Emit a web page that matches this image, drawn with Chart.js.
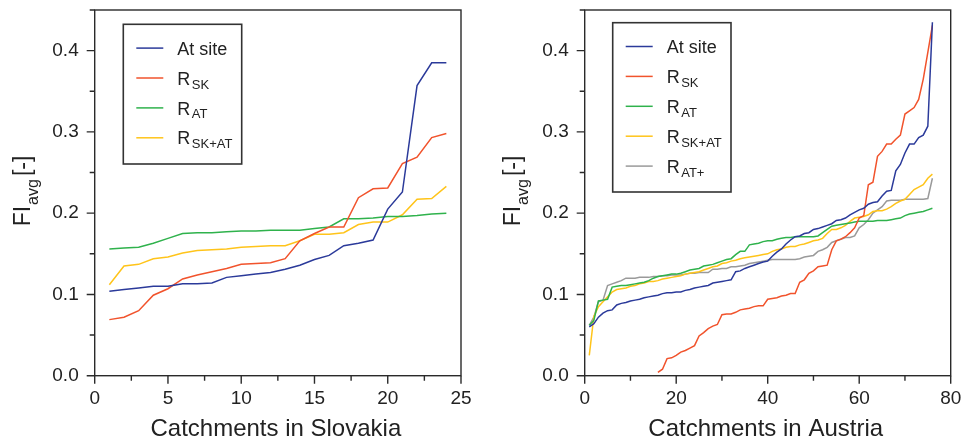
<!DOCTYPE html>
<html><head><meta charset="utf-8">
<script src="https://cdn.jsdelivr.net/npm/chart.js@4.4.1/dist/chart.umd.min.js"></script>
<style>
html,body{margin:0;padding:0;background:#fff;width:963px;height:443px;overflow:hidden;}
canvas{position:absolute;top:0;}
#c1{left:0;}
#c2{left:490px;}
</style></head><body>
<canvas id="c1" width="480" height="443"></canvas>
<canvas id="c2" width="473" height="443"></canvas>
<script>
// ---------- Data: Slovakia (24 catchments) ----------
const catchSK = [1,2,3,4,5,6,7,8,9,10,11,12,13,14,15,16,17,18,19,20,21,22,23,24];
const atSiteSK = [0.104,0.106,0.108,0.110,0.110,0.113,0.113,0.114,0.121,0.123,0.125,0.127,0.131,0.136,0.143,0.148,0.160,0.163,0.167,0.205,0.226,0.357,0.385,0.385];
const rSK_SK   = [0.069,0.072,0.080,0.099,0.107,0.119,0.124,0.128,0.132,0.137,0.138,0.139,0.144,0.166,0.175,0.183,0.183,0.219,0.230,0.231,0.261,0.269,0.293,0.298];
const rAT_SK   = [0.156,0.157,0.158,0.163,0.169,0.175,0.176,0.176,0.177,0.178,0.178,0.179,0.179,0.179,0.181,0.183,0.193,0.193,0.194,0.196,0.196,0.197,0.199,0.200];
const rSKAT_SK = [0.112,0.135,0.137,0.144,0.146,0.151,0.154,0.155,0.156,0.158,0.159,0.160,0.160,0.166,0.174,0.174,0.176,0.186,0.189,0.189,0.198,0.217,0.218,0.233];

// ---------- Data: Austria (76 catchments) ----------
const catchAT = Array.from({length: 76}, (_, i) => i + 1);
const atSiteAT = [0.060,0.064,0.072,0.077,0.080,0.081,0.087,0.089,0.090,0.092,
  0.093,0.094,0.096,0.097,0.098,0.099,0.101,0.102,0.102,0.103,
  0.103,0.105,0.106,0.108,0.109,0.110,0.111,0.114,0.115,0.116,
  0.117,0.118,0.128,0.129,0.132,0.134,0.136,0.138,0.140,0.141,
  0.147,0.152,0.156,0.162,0.167,0.171,0.172,0.175,0.176,0.180,
  0.181,0.183,0.185,0.187,0.191,0.192,0.194,0.198,0.201,0.204,
  0.206,0.211,0.213,0.214,0.221,0.227,0.228,0.252,0.260,0.274,
  0.285,0.285,0.293,0.296,0.307,0.435];
const rSK_AT = [null,null,null,null,null,null,null,null,null,null,
  null,null,null,null,null,0.004,0.008,0.021,0.022,0.025,
  0.029,0.031,0.034,0.037,0.049,0.053,0.058,0.061,0.063,0.075,
  0.076,0.076,0.078,0.081,0.082,0.083,0.085,0.086,0.086,0.094,
  0.095,0.096,0.098,0.099,0.101,0.101,0.115,0.118,0.126,0.129,
  0.134,0.135,0.136,0.155,0.166,0.168,0.171,0.176,0.182,0.194,
  0.197,0.235,0.238,0.270,0.276,0.285,0.285,0.291,0.296,0.322,
  0.326,0.330,0.340,0.365,0.398,0.431];
const rAT_AT = [0.062,0.068,0.092,0.093,0.094,0.109,0.110,0.111,0.111,0.112,
  0.113,0.114,0.115,0.117,0.120,0.122,0.123,0.124,0.125,0.125,
  0.126,0.128,0.130,0.131,0.132,0.135,0.136,0.137,0.139,0.141,
  0.143,0.144,0.149,0.153,0.153,0.161,0.162,0.163,0.165,0.166,
  0.166,0.168,0.169,0.170,0.170,0.171,0.171,0.171,0.171,0.171,
  0.172,0.176,0.180,0.184,0.185,0.186,0.187,0.188,0.189,0.190,
  0.190,0.190,0.190,0.191,0.191,0.191,0.192,0.193,0.194,0.197,
  0.199,0.200,0.201,0.202,0.204,0.206];
const rSKAT_AT = [0.025,0.073,0.085,0.091,0.097,0.103,0.106,0.107,0.108,0.110,
  0.111,0.113,0.114,0.116,0.116,0.117,0.119,0.120,0.121,0.122,
  0.123,0.125,0.126,0.127,0.128,0.130,0.132,0.134,0.135,0.138,
  0.139,0.141,0.142,0.144,0.145,0.146,0.147,0.148,0.149,0.150,
  0.153,0.155,0.156,0.158,0.159,0.159,0.161,0.162,0.164,0.166,
  0.167,0.169,0.175,0.180,0.180,0.182,0.185,0.190,0.194,0.195,
  0.196,0.198,0.202,0.203,0.203,0.205,0.208,0.212,0.215,0.217,
  0.223,0.229,0.232,0.235,0.243,0.248];
const rATplus_AT = [0.062,0.072,0.091,0.093,0.111,0.113,0.115,0.117,0.120,0.120,
  0.120,0.121,0.121,0.121,0.122,0.122,0.123,0.123,0.124,0.124,
  0.124,0.125,0.126,0.126,0.127,0.127,0.127,0.131,0.131,0.132,
  0.132,0.134,0.134,0.135,0.136,0.138,0.139,0.140,0.141,0.142,
  0.143,0.143,0.143,0.143,0.143,0.143,0.144,0.146,0.147,0.148,
  0.153,0.155,0.158,0.164,0.166,0.168,0.170,0.170,0.172,0.182,
  0.186,0.192,0.200,0.204,0.208,0.215,0.216,0.216,0.216,0.217,
  0.217,0.217,0.217,0.217,0.218,0.243];

// ---------- Axis ticks / labels ----------
const yTickValues = [0.0, 0.1, 0.2, 0.3, 0.4];
const xTickSK = [0, 5, 10, 15, 20, 25];
const xTickAT = [0, 20, 40, 60, 80];

// ---------- Legend labels ----------
const legendSK = [['At site',''],['R','SK'],['R','AT'],['R','SK+AT']];
const legendAT = [['At site',''],['R','SK'],['R','AT'],['R','SK+AT'],['R','AT+']];

const C_BLUE = '#2b3a9a', C_RED = '#f1532c', C_GREEN = '#2fb24c', C_YELLOW = '#ffc41a', C_GRAY = '#9a9a9a';
const FONT = '"Liberation Sans", Arial, Helvetica, sans-serif';
const AXIS = '#2a2a2a';

function pts(xs, ys) { return ys.map((v, i) => ({x: xs[i], y: v})); }

const decor = {
  id: 'decor',
  afterDraw(chart, args, o) {
    const ctx = chart.ctx, a = chart.chartArea;
    const xs = chart.scales.x, ys = chart.scales.y;
    ctx.save();
    // frame
    ctx.strokeStyle = AXIS; ctx.lineWidth = 1.4;
    ctx.strokeRect(a.left, a.top, a.right - a.left, a.bottom - a.top);
    // ticks
    ctx.beginPath();
    const nX = Math.round((xs.max - xs.min) / o.xMinor);
    for (let i = 0; i <= nX; i++) {
      const v = xs.min + i * o.xMinor;
      const px = xs.getPixelForValue(v);
      const major = Math.abs(v / o.xMajor - Math.round(v / o.xMajor)) < 1e-6;
      ctx.moveTo(px, a.bottom); ctx.lineTo(px, a.bottom + (major ? 8 : 5));
    }
    const nY = Math.round((ys.max - ys.min) / 0.05);
    for (let i = 0; i <= nY; i++) {
      const v = ys.min + i * 0.05;
      const py = ys.getPixelForValue(v);
      const major = (i % 2) === 0;
      ctx.moveTo(a.left, py); ctx.lineTo(a.left - (major ? 8 : 5), py);
    }
    ctx.stroke();

    ctx.fillStyle = '#222';
    // x title
    ctx.font = '24px ' + FONT;
    ctx.textAlign = 'center'; ctx.textBaseline = 'alphabetic';
    ctx.fillText(o.xTitle, (a.left + a.right) / 2 - 2, 436);

    // y title FI_avg [-]
    ctx.save();
    ctx.translate(30, 191);
    ctx.rotate(-Math.PI / 2);
    ctx.textAlign = 'left';
    ctx.font = '23px ' + FONT; const w1 = ctx.measureText('FI').width;
    ctx.font = '16px ' + FONT; const w2 = ctx.measureText('avg').width;
    ctx.font = '23px ' + FONT; const w3 = ctx.measureText('[-]').width;
    const tot = w1 + 1 + w2 + 3 + w3;
    let x = -tot / 2;
    ctx.font = '23px ' + FONT; ctx.fillText('FI', x, 0); x += w1 + 1;
    ctx.font = '16px ' + FONT; ctx.fillText('avg', x, 8); x += w2 + 3;
    ctx.font = '23px ' + FONT; ctx.fillText('[-]', x, 0);
    ctx.restore();

    // legend
    const L = o.legend;
    const bx = a.left + L.dx, by = L.y, bw = L.w, bh = L.h;
    ctx.fillStyle = '#fff';
    ctx.fillRect(bx, by, bw, bh);
    ctx.strokeStyle = '#333'; ctx.lineWidth = 1.6;
    ctx.strokeRect(bx, by, bw, bh);
    const dsets = chart.data.datasets;
    L.items.forEach((it, i) => {
      const ly = by + 23.8 + i * 29.9;
      ctx.strokeStyle = dsets[i].borderColor; ctx.lineWidth = 1.5;
      ctx.beginPath(); ctx.moveTo(bx + 13, ly); ctx.lineTo(bx + 40, ly); ctx.stroke();
      ctx.fillStyle = '#222'; ctx.textAlign = 'left'; ctx.textBaseline = 'alphabetic';
      ctx.font = '18px ' + FONT;
      ctx.fillText(it[0], bx + 54, ly + 6.6);
      if (it[1]) {
        const mw = ctx.measureText(it[0]).width;
        ctx.font = '13px ' + FONT;
        ctx.fillText(it[1], bx + 54 + mw + 1.5, ly + 10.5);
      }
    });
    ctx.restore();
  }
};

function makeChart(id, xs, series, colors, xMax, xTicks, xMinor, xMajor, xTitle, padRight, legend) {
  const datasets = series.map((s, i) => ({
    data: pts(xs, s), borderColor: colors[i], backgroundColor: colors[i],
    borderWidth: 1.5, pointRadius: 0, tension: 0, spanGaps: false, fill: false
  }));
  return new Chart(document.getElementById(id), {
    type: 'line',
    data: { datasets },
    options: {
      responsive: false, animation: false, devicePixelRatio: 1,
      layout: { padding: { left: 0, top: 10, right: padRight, bottom: 0 } },
      plugins: { legend: { display: false }, tooltip: { enabled: false },
        decor: { xMinor, xMajor, xTitle, legend } },
      scales: {
        x: {
          type: 'linear', min: 0, max: xMax,
          afterBuildTicks: s => { s.ticks = xTicks.map(v => ({value: v})); },
          ticks: { font: { size: 19, family: FONT }, color: '#222', padding: 4, maxRotation: 0, autoSkip: false,
                   callback: v => String(v) },
          grid: { display: true, drawOnChartArea: false, drawTicks: true, tickLength: 8, color: 'rgba(0,0,0,0)' },
          border: { display: false },
          afterFit: s => { s.height = 67.3; s.paddingLeft = 0; s.paddingRight = 0; }
        },
        y: {
          type: 'linear', min: 0, max: 0.45,
          afterBuildTicks: s => { s.ticks = yTickValues.map(v => ({value: v})); },
          ticks: { font: { size: 19, family: FONT }, color: '#222', padding: 8,
                   callback: v => v.toFixed(1) },
          grid: { display: true, drawOnChartArea: false, drawTicks: true, tickLength: 8, color: 'rgba(0,0,0,0)' },
          border: { display: false },
          afterFit: s => { s.width = 94.7; s.paddingTop = 0; s.paddingBottom = 0; }
        }
      }
    },
    plugins: [decor]
  });
}

makeChart('c1', catchSK, [atSiteSK, rSK_SK, rAT_SK, rSKAT_SK], [C_BLUE, C_RED, C_GREEN, C_YELLOW],
  25, xTickSK, 2.5, 5, 'Catchments in Slovakia', 19,
  { dx: 28.6, y: 24.3, w: 118.4, h: 139.7, items: legendSK });
makeChart('c2', catchAT, [atSiteAT, rSK_AT, rAT_AT, rSKAT_AT, rATplus_AT], [C_BLUE, C_RED, C_GREEN, C_YELLOW, C_GRAY],
  80, xTickAT, 10, 20, 'Catchments in Austria', 12.3,
  { dx: 28, y: 22.7, w: 118.3, h: 169.3, items: legendAT });
</script>
</body></html>
